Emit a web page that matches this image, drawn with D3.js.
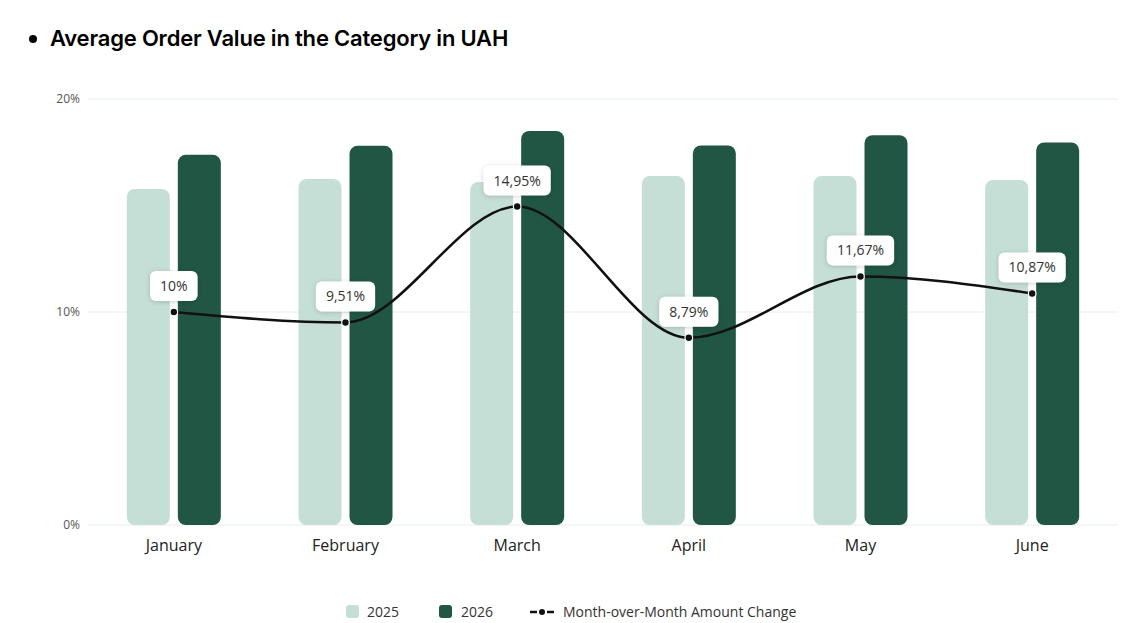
<!DOCTYPE html>
<html lang="en">
<head>
  <meta charset="utf-8">
  <title>Average Order Value in the Category in UAH</title>
  <script src="https://d3js.org/d3.v7.min.js"></script>
  <style>
    html, body { margin: 0; padding: 0; background: #fff; }
    svg { display: block; }
    .tick-y { font-family: "Open Sans", sans-serif; font-size: 12px; fill: #555; }
    .tick-x { font-family: "Open Sans", sans-serif; font-size: 16px; fill: #222; }
    .lbl { font-family: "Open Sans", sans-serif; font-size: 14px; fill: #333; }
    .legend { font-family: "Open Sans", sans-serif; font-size: 14px; fill: #333; }
  </style>
</head>
<body>
  <div id="chart"></div>
  <script>
    // data
    var months = ['January', 'February', 'March', 'April', 'May', 'June'];
    var aov2025 = [789, 812, 805, 819, 819, 810];   // UAH, hidden axis
    var aov2026 = [869, 890, 925, 891, 915, 898];
    var momChange = [10, 9.51, 14.95, 8.79, 11.67, 10.87]; // %
    var pctTicks = [0, 10, 20];

    var w = 1148, h = 623;
    var margin = {top: 99, right: 30, bottom: 98, left: 88};
    var innerW = w - margin.left - margin.right,
      innerH = h - margin.top - margin.bottom;

    var svg = d3.select('#chart').append('svg')
      .attr('width', w)
      .attr('height', h);

    var defs = svg.append('defs');
    var shadow = defs.append('filter').attr('id', 'shadow')
      .attr('x', '-30%').attr('y', '-40%').attr('width', '160%').attr('height', '180%');
    shadow.append('feDropShadow')
      .attr('dx', 0).attr('dy', 1).attr('stdDeviation', 2.5)
      .attr('flood-color', '#000').attr('flood-opacity', 0.18);

    // title
    svg.append('circle').attr('cx', 33).attr('cy', 39).attr('r', 4).attr('fill', '#000');
    svg.append('text')
      .attr('x', 50).attr('y', 46)
      .attr('font-family', 'Inter, sans-serif')
      .attr('font-weight', 600)
      .attr('font-size', 22)
      .attr('letter-spacing', -0.2)
      .attr('fill', '#000')
      .text('Average Order Value in the Category in UAH');

    var g = svg.append('g')
      .attr('transform', 'translate(' + [margin.left, margin.top] + ')');

    var x = d3.scaleBand().domain(months).range([0, innerW]);
    var pct = d3.scaleLinear().domain([0, 20]).range([innerH, 0]);
    var amount = d3.scaleLinear().domain([0, 1000]).range([innerH, 0]);

    // grid + y labels
    g.selectAll('.grid').data(pctTicks).enter().append('line')
      .attr('class', 'grid')
      .attr('x1', 0).attr('x2', innerW)
      .attr('y1', function(d) { return pct(d); })
      .attr('y2', function(d) { return pct(d); })
      .attr('stroke', '#e5f0e9').attr('stroke-width', 1);

    g.selectAll('.tick-y').data(pctTicks).enter().append('text')
      .attr('class', 'tick-y')
      .attr('x', -8)
      .attr('y', function(d) { return pct(d) + 4; })
      .attr('text-anchor', 'end')
      .text(function(d) { return d + '%'; });

    // bars
    var barW = 43, gap = 8;
    var rows = months.map(function(m, i) {
      return {month: m, a: aov2025[i], b: aov2026[i], c: momChange[i]};
    });

    var group = g.selectAll('.month').data(rows).enter().append('g')
      .attr('class', 'month')
      .attr('transform', function(d) {
        return 'translate(' + [x(d.month) + x.bandwidth() / 2, 0] + ')';
      });

    group.append('rect')
      .attr('x', -gap / 2 - barW)
      .attr('y', function(d) { return amount(d.a); })
      .attr('width', barW)
      .attr('height', function(d) { return innerH - amount(d.a); })
      .attr('rx', 8)
      .attr('fill', '#c5dfd6');

    group.append('rect')
      .attr('x', gap / 2)
      .attr('y', function(d) { return amount(d.b); })
      .attr('width', barW)
      .attr('height', function(d) { return innerH - amount(d.b); })
      .attr('rx', 8)
      .attr('fill', '#215644');

    // x labels
    g.selectAll('.tick-x').data(months).enter().append('text')
      .attr('class', 'tick-x')
      .attr('x', function(d) { return x(d) + x.bandwidth() / 2; })
      .attr('y', innerH + 26)
      .attr('text-anchor', 'middle')
      .text(function(d) { return d; });

    // line
    var line = d3.line()
      .x(function(d) { return x(d.month) + x.bandwidth() / 2; })
      .y(function(d) { return pct(d.c); })
      .curve(d3.curveMonotoneX);

    g.append('path')
      .datum(rows)
      .attr('d', line)
      .attr('fill', 'none')
      .attr('stroke', '#111')
      .attr('stroke-width', 2.5);

    g.selectAll('.dot').data(rows).enter().append('circle')
      .attr('class', 'dot')
      .attr('cx', function(d) { return x(d.month) + x.bandwidth() / 2; })
      .attr('cy', function(d) { return pct(d.c); })
      .attr('r', 3.8)
      .attr('fill', '#111')
      .attr('stroke', '#fff')
      .attr('stroke-width', 1.2);

    // value labels
    var fmt = function(v) { return String(v).replace('.', ',') + '%'; };
    var lbl = g.selectAll('.lblg').data(rows).enter().append('g')
      .attr('class', 'lblg')
      .attr('transform', function(d) {
        return 'translate(' + [x(d.month) + x.bandwidth() / 2, pct(d.c) - 11] + ')';
      });
    var box = lbl.append('rect')
      .attr('y', -30).attr('height', 30)
      .attr('rx', 6)
      .attr('fill', '#fff')
      .attr('filter', 'url(#shadow)');
    var txt = lbl.append('text')
      .attr('class', 'lbl')
      .attr('y', -10)
      .attr('text-anchor', 'middle')
      .text(function(d) { return fmt(d.c); });
    txt.each(function(d, i) {
      var tw = this.getComputedTextLength();
      d3.select(box.nodes()[i]).attr('x', -tw / 2 - 10).attr('width', tw + 20);
    });

    // legend
    var lg = svg.append('g').attr('transform', 'translate(0,612)');
    lg.append('rect').attr('x', 346).attr('y', -7).attr('width', 13).attr('height', 13)
      .attr('rx', 3).attr('fill', '#c5dfd6');
    lg.append('text').attr('class', 'legend').attr('x', 367).attr('y', 5).text('2025');
    lg.append('rect').attr('x', 439).attr('y', -7).attr('width', 13).attr('height', 13)
      .attr('rx', 3).attr('fill', '#215644');
    lg.append('text').attr('class', 'legend').attr('x', 461).attr('y', 5).text('2026');
    lg.append('line').attr('x1', 530).attr('x2', 537).attr('y1', 0).attr('y2', 0)
      .attr('stroke', '#111').attr('stroke-width', 2.5);
    lg.append('line').attr('x1', 547).attr('x2', 554).attr('y1', 0).attr('y2', 0)
      .attr('stroke', '#111').attr('stroke-width', 2.5);
    lg.append('circle').attr('cx', 542).attr('cy', 0).attr('r', 3).attr('fill', '#111');
    lg.append('text').attr('class', 'legend').attr('x', 563).attr('y', 5)
      .text('Month-over-Month Amount Change');
  </script>
</body>
</html>
